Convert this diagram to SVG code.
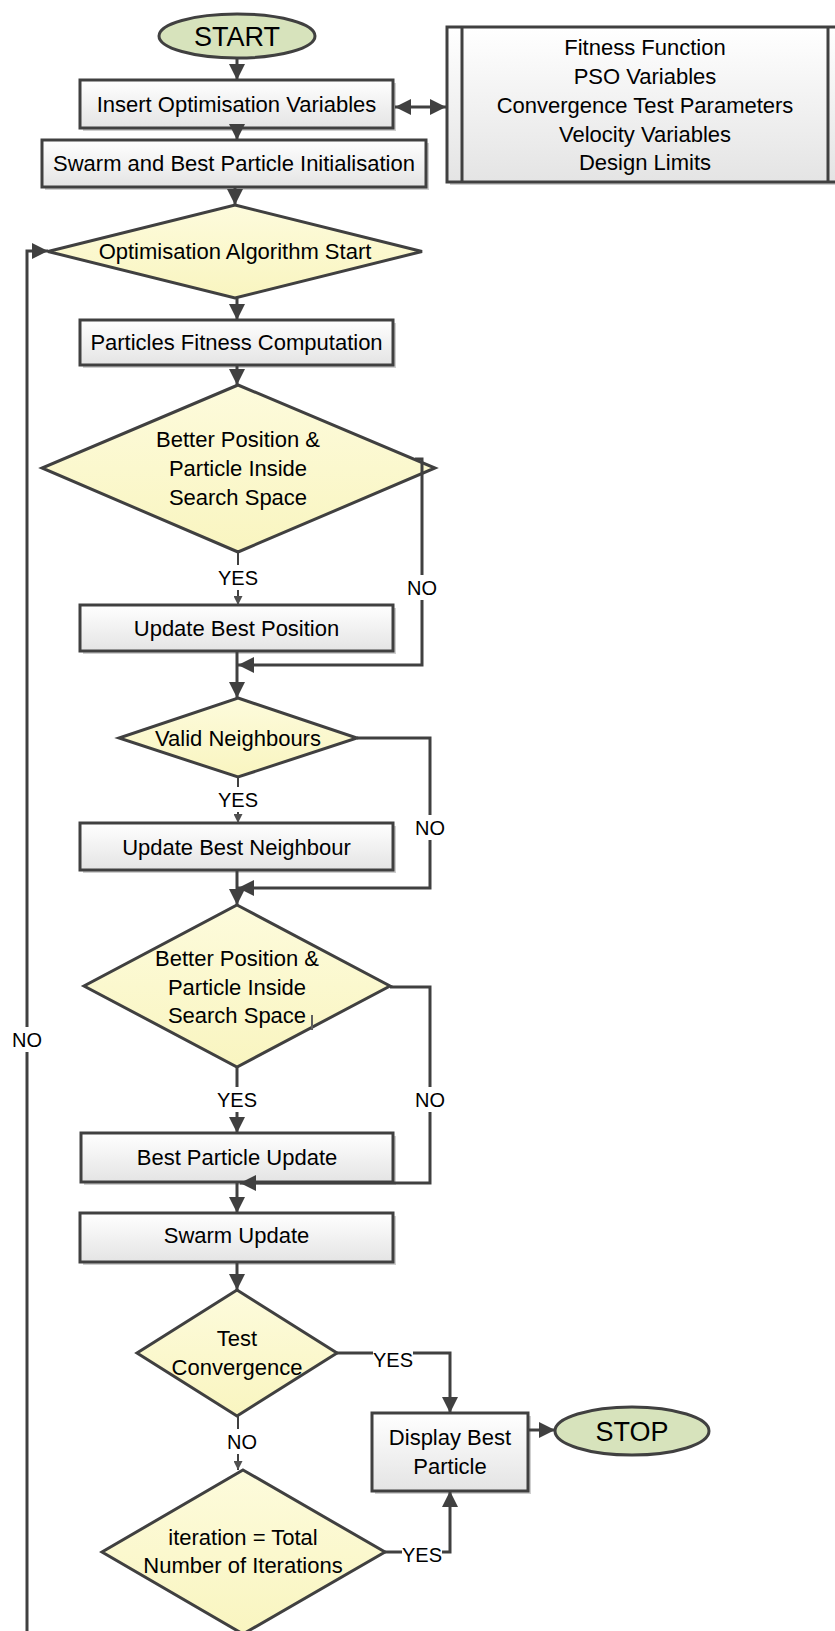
<svg xmlns="http://www.w3.org/2000/svg" width="835" height="1631" viewBox="0 0 835 1631">
<style>
text{font-family:"Liberation Sans",Arial,sans-serif;fill:#000;text-anchor:middle}
.t{font-size:22px}
.lb{font-size:20px}
.big{font-size:27px}
.box{fill:url(#gBox);stroke:#404040;stroke-width:3}
.sh{fill:#cfcfcf}
.dia{fill:url(#gDia);stroke:#404040;stroke-width:3;stroke-linejoin:miter}
.ell{fill:#d7e3bc;stroke:#404040;stroke-width:3}
.c{fill:none;stroke:#404040;stroke-width:3}
.cs{fill:none;stroke:#404040;stroke-width:2}
.bg{fill:#fff}
</style>
<defs>
<linearGradient id="gBox" x1="0" y1="0" x2="0" y2="1">
<stop offset="0" stop-color="#ffffff"/>
<stop offset="1" stop-color="#e4e4e4"/>
</linearGradient>
<linearGradient id="gDia" x1="0" y1="0" x2="0" y2="1">
<stop offset="0" stop-color="#fdfbdc"/>
<stop offset="1" stop-color="#f9f5c0"/>
</linearGradient>
<marker id="ah" viewBox="0 0 10 10" refX="10" refY="5" markerWidth="16" markerHeight="16" markerUnits="userSpaceOnUse" orient="auto-start-reverse">
<path d="M0,0 L10,5 L0,10 z" fill="#404040"/>
</marker>
<marker id="ahs" viewBox="0 0 10 10" refX="10" refY="5" markerWidth="9" markerHeight="9" markerUnits="userSpaceOnUse" orient="auto">
<path d="M0,0 L10,5 L0,10 z" fill="#505050"/>
</marker>
</defs>
<rect width="835" height="1631" fill="#fff"/>

<g id="start">
<ellipse class="ell" cx="237" cy="36" rx="78" ry="22"/>
<text class="big" x="237" y="45.5">START</text>
</g>

<g id="insert">
<rect class="sh" x="83" y="83" width="313" height="48"/>
<rect class="box" x="80" y="80" width="313" height="48"/>
<text class="t" x="236.5" y="111.5">Insert Optimisation Variables</text>
</g>

<g id="params">
<rect class="sh" x="450" y="30" width="395" height="155"/>
<rect class="box" x="447" y="27" width="398" height="155"/>
<line class="c" x1="462" y1="27" x2="462" y2="182"/>
<line class="c" x1="828" y1="27" x2="828" y2="182"/>
<text class="t" x="645" y="54.5">Fitness Function</text>
<text class="t" x="645" y="83.5">PSO Variables</text>
<text class="t" x="645" y="112.5">Convergence Test Parameters</text>
<text class="t" x="645" y="141.5">Velocity Variables</text>
<text class="t" x="645" y="170">Design Limits</text>
</g>

<g id="swarm-init">
<rect class="sh" x="45" y="143" width="384" height="47"/>
<rect class="box" x="42" y="140" width="384" height="47"/>
<text class="t" x="234" y="171">Swarm and Best Particle Initialisation</text>
</g>

<g id="algo-start">
<polygon class="dia" points="235,205 422,251.5 235,298 48,251.5"/>
<text class="t" x="235" y="259">Optimisation Algorithm Start</text>
</g>

<g id="fitness">
<rect class="sh" x="83" y="323" width="313" height="45"/>
<rect class="box" x="80" y="320" width="313" height="45"/>
<text class="t" x="236.5" y="350">Particles Fitness Computation</text>
</g>

<g id="better1">
<polygon class="dia" points="238,385 435,468 238,552 42,468"/>
<text class="t" x="238" y="446.5">Better Position &amp;</text>
<text class="t" x="238" y="475.5">Particle Inside</text>
<text class="t" x="238" y="504.5">Search Space</text>
</g>

<g id="update-pos">
<rect class="sh" x="83" y="608" width="313" height="46"/>
<rect class="box" x="80" y="605" width="313" height="46"/>
<text class="t" x="236.5" y="635.5">Update Best Position</text>
</g>

<g id="valid">
<polygon class="dia" points="238,698 357,738 238,777 119,738"/>
<text class="t" x="238" y="745.5">Valid Neighbours</text>
</g>

<g id="update-nb">
<rect class="sh" x="83" y="826" width="313" height="47"/>
<rect class="box" x="80" y="823" width="313" height="47"/>
<text class="t" x="236.5" y="854.5">Update Best Neighbour</text>
</g>

<g id="better2">
<polygon class="dia" points="237,905 390,986 237,1067 84,986"/>
<text class="t" x="237" y="965.5">Better Position &amp;</text>
<text class="t" x="237" y="994.5">Particle Inside</text>
<text class="t" x="237" y="1023">Search Space</text>
<line x1="312" y1="1015" x2="312" y2="1030" stroke="#606060" stroke-width="2"/>
</g>

<g id="best-update">
<rect class="sh" x="84" y="1136" width="312" height="49"/>
<rect class="box" x="81" y="1133" width="312" height="49"/>
<text class="t" x="237" y="1164.5">Best Particle Update</text>
</g>

<g id="swarm-update">
<rect class="sh" x="83" y="1216" width="313" height="49"/>
<rect class="box" x="80" y="1213" width="313" height="49"/>
<text class="t" x="236.5" y="1243">Swarm Update</text>
</g>

<g id="test-conv">
<polygon class="dia" points="237,1290 337,1353 237,1416 137,1353"/>
<text class="t" x="237" y="1345.5">Test</text>
<text class="t" x="237" y="1374.5">Convergence</text>
</g>

<g id="display">
<rect class="sh" x="375" y="1416" width="156" height="78"/>
<rect class="box" x="372" y="1413" width="156" height="78"/>
<text class="t" x="450" y="1444.5">Display Best</text>
<text class="t" x="450" y="1474">Particle</text>
</g>

<g id="stop">
<ellipse class="ell" cx="632" cy="1431" rx="77" ry="24"/>
<text class="big" x="632" y="1440.5">STOP</text>
</g>

<g id="iter">
<polygon class="dia" points="243,1470 385,1552 243,1634 102,1552"/>
<text class="t" x="243" y="1544.5">iteration = Total</text>
<text class="t" x="243" y="1572.5">Number of Iterations</text>
</g>

<g id="connectors">
<path class="c" d="M237 58 V80" marker-end="url(#ah)"/>
<path class="c" d="M237 128 V140" marker-end="url(#ah)"/>
<path class="c" d="M395 107 H446" marker-start="url(#ah)" marker-end="url(#ah)"/>
<path class="c" d="M235 187 V205" marker-end="url(#ah)"/>
<path class="c" d="M237 298 V320" marker-end="url(#ah)"/>
<path class="c" d="M237 365 V385" marker-end="url(#ah)"/>
<path class="cs" d="M238 552 V605" marker-end="url(#ahs)"/>
<path class="c" d="M415 459 H422 V665 H238" marker-end="url(#ah)"/>
<path class="c" d="M237 651 V698" marker-end="url(#ah)"/>
<path class="cs" d="M238 777 V823" marker-end="url(#ahs)"/>
<path class="c" d="M357 738 H430 V888 H238" marker-end="url(#ah)"/>
<path class="c" d="M237 870 V905" marker-end="url(#ah)"/>
<path class="c" d="M237 1067 V1133" marker-end="url(#ah)"/>
<path class="c" d="M390 987 H430 V1183 H240" marker-end="url(#ah)"/>
<path class="c" d="M237 1183 V1213" marker-end="url(#ah)"/>
<path class="c" d="M237 1262 V1290" marker-end="url(#ah)"/>
<path class="c" d="M337 1353 H450 V1413" marker-end="url(#ah)"/>
<path class="cs" d="M238 1416 V1470" marker-end="url(#ahs)"/>
<path class="c" d="M385 1552 H450 V1491" marker-end="url(#ah)"/>
<path class="c" d="M528 1430 H555" marker-end="url(#ah)"/>
<path class="c" d="M27 1631 V251 H48" marker-end="url(#ah)"/>
</g>

<g id="labels">
<rect class="bg" x="217" y="565" width="42" height="25"/>
<text class="lb" x="238" y="585">YES</text>
<rect class="bg" x="405" y="575" width="34" height="25"/>
<text class="lb" x="422" y="595">NO</text>
<rect class="bg" x="217" y="787" width="42" height="25"/>
<text class="lb" x="238" y="807">YES</text>
<rect class="bg" x="413" y="815" width="34" height="25"/>
<text class="lb" x="430" y="835">NO</text>
<rect class="bg" x="216" y="1087" width="42" height="25"/>
<text class="lb" x="237" y="1107">YES</text>
<rect class="bg" x="413" y="1087" width="34" height="25"/>
<text class="lb" x="430" y="1107">NO</text>
<rect class="bg" x="373" y="1348" width="40" height="22"/>
<text class="lb" x="393" y="1367">YES</text>
<rect class="bg" x="225" y="1429" width="34" height="25"/>
<text class="lb" x="242" y="1449">NO</text>
<rect class="bg" x="402" y="1545" width="40" height="22"/>
<text class="lb" x="422" y="1562">YES</text>
<rect class="bg" x="10" y="1027" width="34" height="25"/>
<text class="lb" x="27" y="1047">NO</text>
</g>
</svg>
